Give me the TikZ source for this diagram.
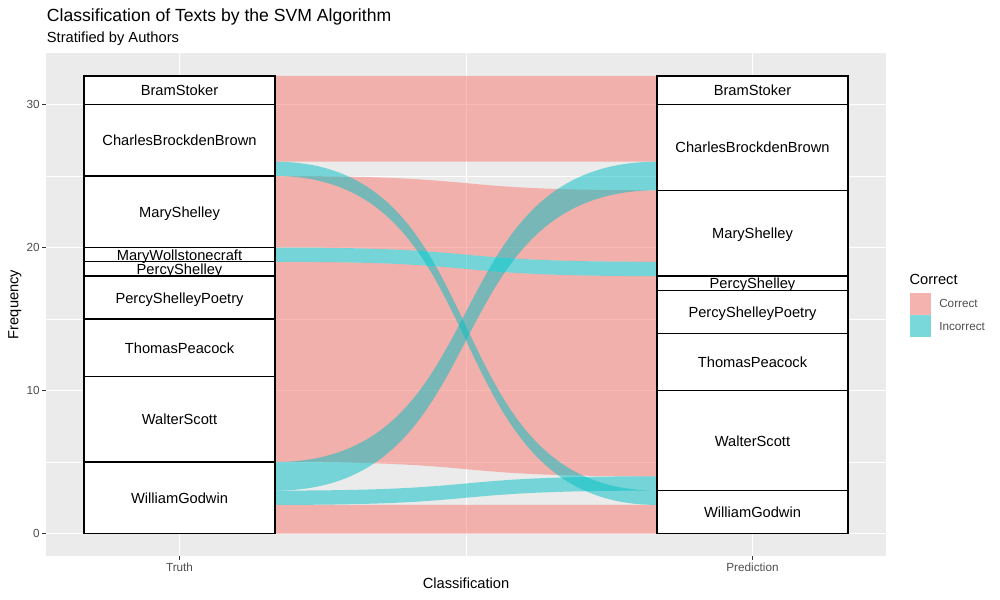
\documentclass[tikz,border=0pt]{standalone}
\usepackage{fontspec}
\setmainfont{Liberation Sans}
\definecolor{pinkC}{HTML}{F8766D}
\definecolor{cyanC}{HTML}{00BFC4}
\definecolor{panelC}{HTML}{EBEBEB}
\definecolor{tickC}{HTML}{4D4D4D}
\definecolor{tickL}{HTML}{333333}
\definecolor{keyC}{HTML}{F2F2F2}
\newcommand{\flowpath}[4]{(275,#1) .. controls (501,#1) and (431,#3) .. (657,#3) -- (657,#4) .. controls (431,#4) and (501,#2) .. (275,#2) -- cycle}
\begin{document}
\begin{tikzpicture}[x=0.75pt,y=-0.75pt,
  flowC/.style={fill=pinkC,fill opacity=0.5},
  flowI/.style={fill=cyanC,fill opacity=0.5},
  stratum/.style={draw=black,fill=white,line width=1pt},
  slab/.style={font=\fontsize{11}{13}\selectfont,anchor=base,inner sep=0pt},
  ticklab/.style={font=\fontsize{8.8}{10}\selectfont,text=tickC,inner sep=0pt},
  axtitle/.style={font=\fontsize{11}{13}\selectfont,inner sep=0pt},
  gmaj/.style={draw=white,line width=0.8pt},
  gmin/.style={draw=white,line width=0.45pt},
  tick/.style={draw=tickL,line width=0.8pt}]
\useasboundingbox (0,0) rectangle (1000,600);
% panel
\fill[panelC] (46,53) rectangle (886,556);
% grid
\foreach \yy in {462.0,319.0,176.0} \draw[gmin] (46,\yy) -- (886,\yy);
\draw[gmin] (466,53) -- (466,556);
\foreach \yy in {533.5,390.5,247.5,104.5} \draw[gmaj] (46,\yy) -- (886,\yy);
\foreach \xx in {179.5,752.5} \draw[gmaj] (\xx,53) -- (\xx,556);
% flows: correct
\fill[flowC] \flowpath{75.9}{161.7}{75.9}{161.7};
\fill[flowC] \flowpath{176.0}{247.5}{190.3}{261.8};
\fill[flowC] \flowpath{261.8}{462.0}{276.1}{476.3};
\fill[flowC] \flowpath{504.9}{533.5}{504.9}{533.5};
% flows: incorrect
\fill[flowI] \flowpath{490.6}{504.9}{476.3}{490.6};
\fill[flowI] \flowpath{247.5}{261.8}{261.8}{276.1};
\fill[flowI] \flowpath{462.0}{490.6}{161.7}{190.3};
\fill[flowI] \flowpath{161.7}{176.0}{490.6}{504.9};
% strata: truth
\draw[stratum] (84,75.9) rectangle (275,104.5);
\draw[stratum] (84,104.5) rectangle (275,176.0);
\draw[stratum] (84,176.0) rectangle (275,247.5);
\draw[stratum] (84,247.5) rectangle (275,261.8);
\draw[stratum] (84,261.8) rectangle (275,276.1);
\draw[stratum] (84,276.1) rectangle (275,319.0);
\draw[stratum] (84,319.0) rectangle (275,376.2);
\draw[stratum] (84,376.2) rectangle (275,462.0);
\draw[stratum] (84,462.0) rectangle (275,533.5);
% strata: prediction
\draw[stratum] (657,75.9) rectangle (848,104.5);
\draw[stratum] (657,104.5) rectangle (848,190.3);
\draw[stratum] (657,190.3) rectangle (848,276.1);
\draw[stratum] (657,276.1) rectangle (848,290.4);
\draw[stratum] (657,290.4) rectangle (848,333.3);
\draw[stratum] (657,333.3) rectangle (848,390.5);
\draw[stratum] (657,390.5) rectangle (848,490.6);
\draw[stratum] (657,490.6) rectangle (848,533.5);
% stratum labels: truth
\node[slab] (tBS) at (179.5,95.6) {BramStoker};
\node[slab] (tCBB) at (179.5,145.7) {CharlesBrockdenBrown};
\node[slab] (tMS) at (179.5,217.2) {MaryShelley};
\node[slab] (tMW) at (179.5,260.1) {MaryWollstonecraft};
\node[slab] (tPS) at (179.5,274.4) {PercyShelley};
\node[slab] (tPSP) at (179.5,303.0) {PercyShelleyPoetry};
\node[slab] (tTP) at (179.5,353.0) {ThomasPeacock};
\node[slab] (tWS) at (179.5,424.5) {WalterScott};
\node[slab] (tWG) at (179.5,503.2) {WilliamGodwin};
% stratum labels: prediction
\node[slab] (pBS) at (752.5,95.6) {BramStoker};
\node[slab] (pCBB) at (752.5,152.8) {CharlesBrockdenBrown};
\node[slab] (pMS) at (752.5,238.6) {MaryShelley};
\node[slab] (pPS) at (752.5,288.7) {PercyShelley};
\node[slab] (pPSP) at (752.5,317.3) {PercyShelleyPoetry};
\node[slab] (pTP) at (752.5,367.3) {ThomasPeacock};
\node[slab] (pWS) at (752.5,446.0) {WalterScott};
\node[slab] (pWG) at (752.5,517.5) {WilliamGodwin};
% axes ticks
\foreach \yy/\lab [count=\i] in {533.5/0,390.5/10,247.5/20,104.5/30} {
  \draw[tick] (42.3,\yy) -- (46,\yy);
  \node[ticklab,anchor=base east] (yt\i) at (40,\yy+4.2) {\lab};
}
\draw[tick] (179.5,556) -- (179.5,559.7);
\draw[tick] (752.5,556) -- (752.5,559.7);
\node[ticklab,anchor=base] (xtT) at (179.5,571.5) {Truth};
\node[ticklab,anchor=base] (xtP) at (752.5,571.5) {Prediction};
% axis titles
\node[axtitle,anchor=base] (xtitle) at (466,588) {Classification};
\node[axtitle,rotate=90,anchor=base] (ytitle) at (18.5,304.5) {Frequency};
% titles
\node[font=\fontsize{13.2}{15}\selectfont,anchor=base west,inner sep=0pt] (title) at (46.7,21) {Classification of Texts by the SVM Algorithm};
\node[font=\fontsize{11}{13}\selectfont,anchor=base west,inner sep=0pt] (subtitle) at (46.7,42.5) {Stratified by Authors};
% legend
\node[axtitle,anchor=base west] (legtitle) at (909.3,284) {Correct};
\fill[keyC,draw=white,line width=0.6pt] (909.5,292.5) rectangle (931.5,315);
\fill[keyC,draw=white,line width=0.6pt] (909.5,315) rectangle (931.5,337.5);
\fill[flowC] (910,293) rectangle (931,314.6);
\fill[flowI] (910,315.4) rectangle (931,337);
\node[ticklab,anchor=base west] (legC) at (939,307.5) {Correct};
\node[ticklab,anchor=base west] (legI) at (939,330) {Incorrect};
\end{tikzpicture}
\end{document}
